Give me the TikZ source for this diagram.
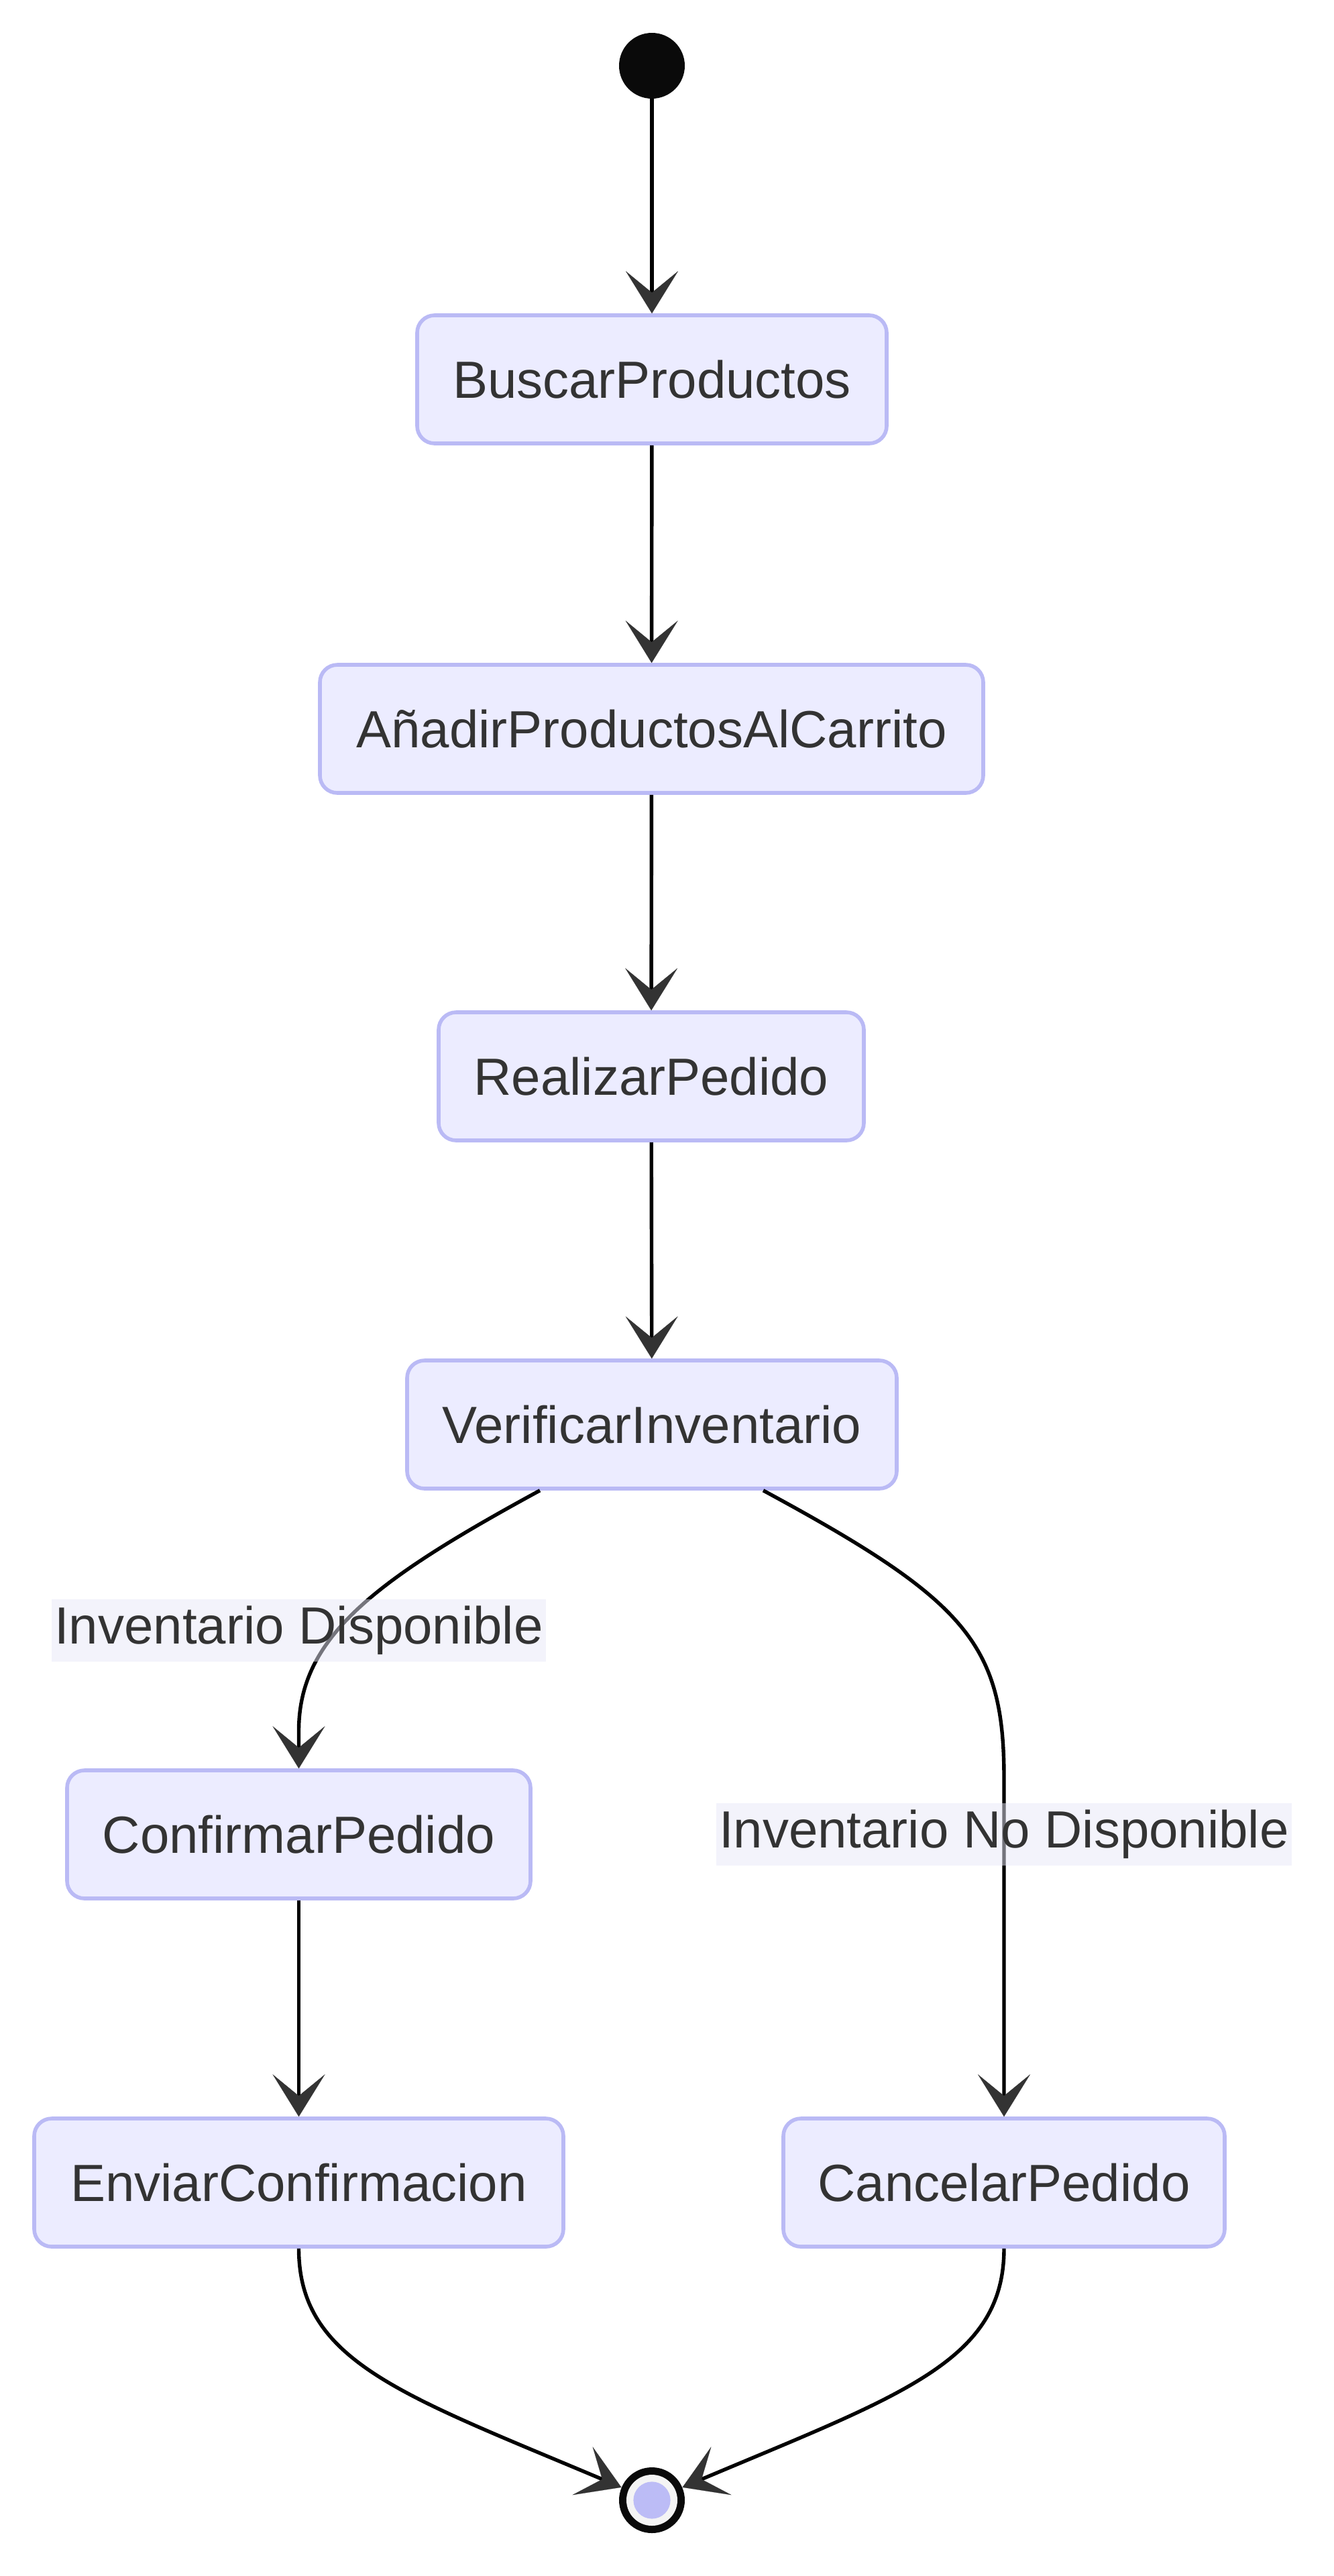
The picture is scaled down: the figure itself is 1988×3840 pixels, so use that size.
\documentclass[tikz,border=0pt]{standalone}
\usepackage{fontspec}
\setmainfont{Liberation Sans}
\usetikzlibrary{arrows.meta,calc}
\definecolor{stfill}{RGB}{236,236,255}
\definecolor{stborder}{RGB}{186,186,245}
\definecolor{txt}{RGB}{51,51,51}
\definecolor{tipc}{RGB}{51,51,51}
\definecolor{lblbg}{RGB}{232,232,248}
\definecolor{endin}{RGB}{188,188,246}
\definecolor{endgray}{RGB}{244,244,244}
\definecolor{nearblack}{RGB}{10,10,10}
\begin{document}
\begin{tikzpicture}[x=0.5pt,y=-0.5pt,
  stbox/.style={draw=stborder, fill=stfill, line width=2.8pt, rounded corners=13pt,
    minimum height=95.5pt, inner sep=0pt, text=txt, font=\fontsize{39pt}{46pt}\selectfont},
  edge/.style={draw=black, line width=2.7pt,
    -{Stealth[length=31.5pt,width=39pt,inset=16pt,color=tipc,line width=0.1pt]}},
  lbl/.style={fill=lblbg, fill opacity=0.5, text opacity=1, text=txt, inner xsep=2pt,
    inner ysep=0pt, minimum height=46.5pt, font=\fontsize{39pt}{46pt}\selectfont}]
\useasboundingbox (0,0) rectangle (1988,3840);
% nodes
\node[circle, fill=nearblack, minimum size=49pt, inner sep=0pt] (S) at (972,98) {};
\node[stbox, minimum width=350pt] (B) at (972,565.5) {BuscarProductos};
\node[stbox, minimum width=494.5pt] (A) at (971.5,1086.5) {AñadirProductosAlCarrito};
\node[stbox, minimum width=317pt] (R) at (971,1604.5) {RealizarPedido};
\node[stbox, minimum width=365pt] (V) at (972,2123.5) {VerificarInventario};
\node[stbox, minimum width=345.5pt] (C) at (445.5,2734.5) {ConfirmarPedido};
\node[stbox, minimum width=394.5pt] (EN) at (445.5,3253.5) {EnviarConfirmacion};
\node[stbox, minimum width=329pt] (X) at (1497,3253.5) {CancelarPedido};
\node[circle, fill=nearblack, minimum size=49pt, inner sep=0pt] (E) at (972,3727) {};
\fill[endgray] (E.center) circle[radius=19pt];
\fill[endin] (E.center) circle[radius=13.8pt];
% edges
\draw[edge] (S) -- (B);
\draw[edge] (B) -- (A);
\draw[edge] (A) -- (R);
\draw[edge] (R) -- (V);
\draw[edge] ($(V.south)+(-167,0)$) .. controls (560,2355) and (445.5,2440) .. (445.5,2580) -- (C);
\draw[edge] ($(V.south)+(166,0)$) .. controls (1440,2385) and (1497,2450) .. (1497,2650) -- (X);
\draw[edge] (C) -- (EN);
\draw[edge] (EN) .. controls (445.5,3520) and (600,3570) .. (E);
\draw[edge] (X) .. controls (1497,3520) and (1344,3570) .. (E);
% labels
\node[lbl] (L1) at (445.5,2430.5) {Inventario Disponible};
\node[lbl] (L2) at (1497,2734.5) {Inventario No Disponible};
\end{tikzpicture}
\end{document}
